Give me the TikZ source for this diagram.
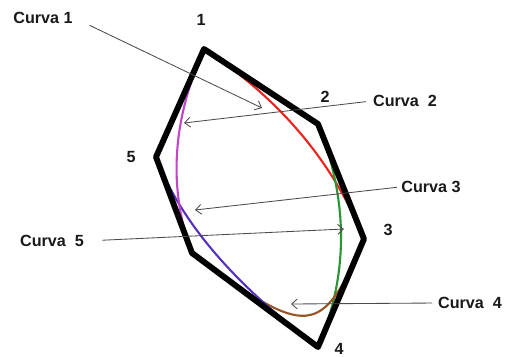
\documentclass[tikz,border=0pt]{standalone}
\usepackage{fontspec}
\setmainfont{Liberation Sans}
\usetikzlibrary{arrows.meta,calc}
\definecolor{curvered}{RGB}{235,35,30}
\definecolor{curvegreen}{RGB}{40,150,50}
\definecolor{curvebrown}{RGB}{150,85,35}
\definecolor{curveblue}{RGB}{85,50,190}
\definecolor{curvemag}{RGB}{195,70,200}
\definecolor{leadgray}{RGB}{75,75,75}
\tikzset{
  hull/.style={draw=black,line width=4.2pt,line join=round},
  curveline/.style={line width=1.5pt},
  leader/.style={draw=leadgray,line width=0.6pt,-{Straight Barb[length=4pt,width=7pt]}},
  curvelabel/.style={font=\bfseries\fontsize{11.5}{12}\selectfont,inner sep=1pt,text=black!90},
  vlabel/.style={font=\bfseries\fontsize{11.5}{12}\selectfont,inner sep=1pt,text=black!90},
}

\begin{document}
\begin{tikzpicture}[x=0.025cm,y=-0.025cm]
\useasboundingbox (0,0) rectangle (506,356);

% control polygon
\coordinate (v1) at (204,49);
\coordinate (v2) at (318,124);
\coordinate (v3) at (364,239);
\coordinate (v4) at (318,347);
\coordinate (v6) at (192,253);
\coordinate (v5) at (156,157);

% curves
\draw[curveline,curvered] (v1) .. controls ($(v1)!0.667!(v2)$) and ($(v3)!0.667!(v2)$) .. (v3);
\draw[curveline,curvegreen] (v2) .. controls ($(v2)!0.667!(v3)$) and ($(v4)!0.667!(v3)$) .. (v4);
\draw[curveline,curvebrown] (v3) .. controls ($(v3)!0.92!(v4)$) and ($(v6)!0.92!(v4)$) .. (v6);
\draw[curveline,curveblue] (v4) .. controls ($(v4)!0.667!(v6)$) and ($(v5)!0.667!(v6)$) .. (v5);
\draw[curveline,curvemag] (v1) .. controls ($(v1)!0.667!(v5)$) and ($(v6)!0.667!(v5)$) .. (v6);

\draw[hull] (v1) -- (v2) -- (v3) -- (v4) -- (v6) -- (v5) -- cycle;

% vertex numbers
\node[vlabel] (n1) at (201,20) {1};
\node[vlabel] (n2) at (325,97) {2};
\node[vlabel] (n3) at (388,230) {3};
\node[vlabel] (n4) at (339,349) {4};
\node[vlabel] (n5) at (131,157) {5};

% curve names
\node[curvelabel] (c1) at (43,18) {Curva 1};
\node[curvelabel] (c2) at (405,101) {Curva\ \ 2};
\node[curvelabel] (c3) at (431,187) {Curva 3};
\node[curvelabel] (c4) at (470,303) {Curva\ \ 4};
\node[curvelabel] (c5) at (52,241) {Curva\ \ 5};

\coordinate (t1) at (262,108);
\coordinate (t2) at (184,123);
\coordinate (t3) at (195,210);
\coordinate (t4) at (291,304);
\coordinate (t5) at (344,229);

\draw[leader,shorten <=12pt] (c1.east) -- (t1);
\draw[leader,shorten <=4pt] (c2.west) -- (t2);
\draw[leader,shorten <=2pt] (c3.west) -- (t3);
\draw[leader,shorten <=3pt] (c4.west) -- (t4);
\draw[leader,shorten <=12pt] (c5.east) -- (t5);

\end{tikzpicture}
\end{document}
